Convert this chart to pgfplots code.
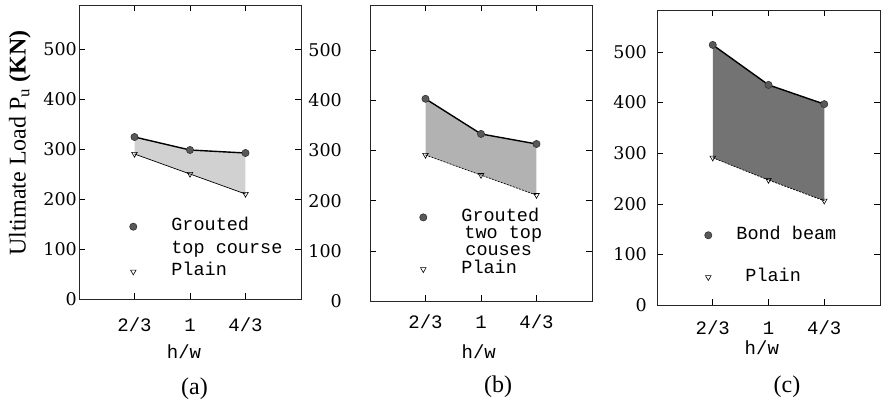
\documentclass[border=0pt]{standalone}
\usepackage{fontspec}
\setmainfont{Liberation Serif}
\setmonofont{Liberation Mono}
\newfontfamily\numfont{DejaVu Serif}
\usepackage{pgfplots}
\pgfplotsset{compat=1.18}

\pgfplotsset{
  panel/.style={
    scale only axis, anchor=south west, clip=false,
    xmin=0.3333, xmax=1.6667, ymin=0,
    xtick={0.6667,1,1.3333}, xticklabels={2/3,1,4/3},
    ytick={0,100,...,500},
    tick align=inside, major tick length=6pt,
    tick style={black, line width=0.6pt},
    axis line style={line width=0.8pt, black!85},
    /pgf/number format/assume math mode=true,
    yticklabel style={font=\numfont\fontsize{17.5}{17.5}\selectfont, inner sep=0pt, anchor=east},
    xticklabel style={font=\ttfamily\fontsize{19}{19}\selectfont, inner sep=0pt, anchor=center},
    legend style={draw=none, fill=none, inner sep=0pt,
      font=\ttfamily\fontsize{18.5}{18.5}\selectfont, anchor=north west,
      nodes={inner sep=0pt, text height=12pt, text depth=4pt}},
    legend cell align=left,
  },
  grouted/.style={black, line width=1.4pt, mark=*, mark size=3.6pt,
    mark options={fill=black!65, draw=black!80, line width=0.6pt}},
  plain/.style={black, line width=0.7pt, mark=triangle, mark size=3.2pt,
    mark options={rotate=180, solid, fill=white, line width=0.6pt}},
  gmark/.style={only marks, mark=*, mark size=3.6pt, mark options={fill=black!65, draw=black!80, line width=0.6pt}},
  pmark/.style={only marks, mark=triangle, mark size=3.2pt, mark options={rotate=180, fill=white, line width=0.6pt}},
  nomark/.style={only marks, mark=*, mark size=3.6pt, white, opacity=0,
    mark options={draw=white, fill=white, opacity=0}},
}

\begin{document}
\begin{tikzpicture}
\useasboundingbox (0,0) rectangle (888pt,413pt);

% (a)
\begin{axis}[panel, at={(79pt,114pt)}, width=222pt, height=294pt, ymax=588,
  yticklabel style={xshift=-2pt}, xticklabel style={yshift=-26pt},
  legend style={at={(axis cs:0.6366,161)}, column sep=34.5pt, row sep=6.5pt}]
\addplot[forget plot, fill=black!18, draw=none] coordinates
  {(0.6667,324) (1,298) (1.3333,292) (1.3333,210) (1,250) (0.6667,290)} -- cycle;
\addplot[grouted, forget plot] coordinates {(0.6667,324) (1,298) (1.3333,292)};
\addplot[plain, forget plot] coordinates {(0.6667,290) (1,250) (1.3333,210)};
\addlegendimage{gmark}
\addlegendentry{Grouted}
\addlegendimage{nomark}
\addlegendentry{top course}
\addlegendimage{pmark}
\addlegendentry{Plain}
\node[font=\ttfamily\fontsize{19}{19}\selectfont, yshift=-53pt] at (axis description cs:0.473,0) {h/w};
\node[font=\fontsize{24}{24}\selectfont, yshift=-90pt] at (axis description cs:0.52,0) {(a)};
\node[rotate=90, font=\fontsize{24}{24}\selectfont] at (axis description cs:-0.266,0.53)
  {Ultimate Load P\textsubscript{u} \textbf{(KN)}};
\end{axis}

% (b)
\begin{axis}[panel, at={(370pt,112pt)}, width=222pt, height=296pt, ymax=590,
  yticklabel style={xshift=-28pt}, xticklabel style={yshift=-21pt},
  legend style={at={(axis cs:0.6306,183)}, column sep=34.5pt, row sep=1.3pt}]
\addplot[forget plot, fill=black!30, draw=none] coordinates
  {(0.6667,403) (1,333) (1.3333,313) (1.3333,211) (1,251) (0.6667,291)} -- cycle;
\addplot[grouted, forget plot] coordinates {(0.6667,403) (1,333) (1.3333,313)};
\addplot[plain, forget plot, dash pattern=on 2pt off 1.2pt] coordinates {(0.6667,291) (1,251) (1.3333,211)};
\addlegendimage{gmark}
\addlegendentry{Grouted}
\addlegendimage{nomark}
\addlegendentry{\hspace{3pt}two top}
\addlegendimage{nomark}
\addlegendentry{\hspace{4pt}couses}
\addlegendimage{pmark}
\addlegendentry{Plain}
\node[font=\ttfamily\fontsize{19}{19}\selectfont, yshift=-51pt] at (axis description cs:0.49,0) {h/w};
\node[font=\fontsize{24}{24}\selectfont, yshift=-86pt] at (axis description cs:0.577,0) {(b)};
\end{axis}

% (c)
\begin{axis}[panel, at={(657pt,108pt)}, width=223pt, height=295pt, ymax=583,
  yticklabel style={xshift=-10pt}, xticklabel style={yshift=-23pt},
  legend style={at={(axis cs:0.6173,154)}, column sep=24.5pt, row sep=26pt}]
\addplot[forget plot, fill=black!55, draw=none] coordinates
  {(0.6667,514) (1,435) (1.3333,397) (1.3333,206) (1,247) (0.6667,291)} -- cycle;
\addplot[grouted, forget plot] coordinates {(0.6667,514) (1,435) (1.3333,397)};
\addplot[plain, forget plot, dash pattern=on 2pt off 1.2pt] coordinates {(0.6667,291) (1,247) (1.3333,206)};
\addlegendimage{gmark}
\addlegendentry{Bond beam}
\addlegendimage{pmark}
\addlegendentry{\hspace{9pt}Plain}
\node[font=\ttfamily\fontsize{19}{19}\selectfont, yshift=-43pt] at (axis description cs:0.47,0) {h/w};
\node[font=\fontsize{24}{24}\selectfont, yshift=-82pt] at (axis description cs:0.583,0) {(c)};
\end{axis}
\end{tikzpicture}
\end{document}
